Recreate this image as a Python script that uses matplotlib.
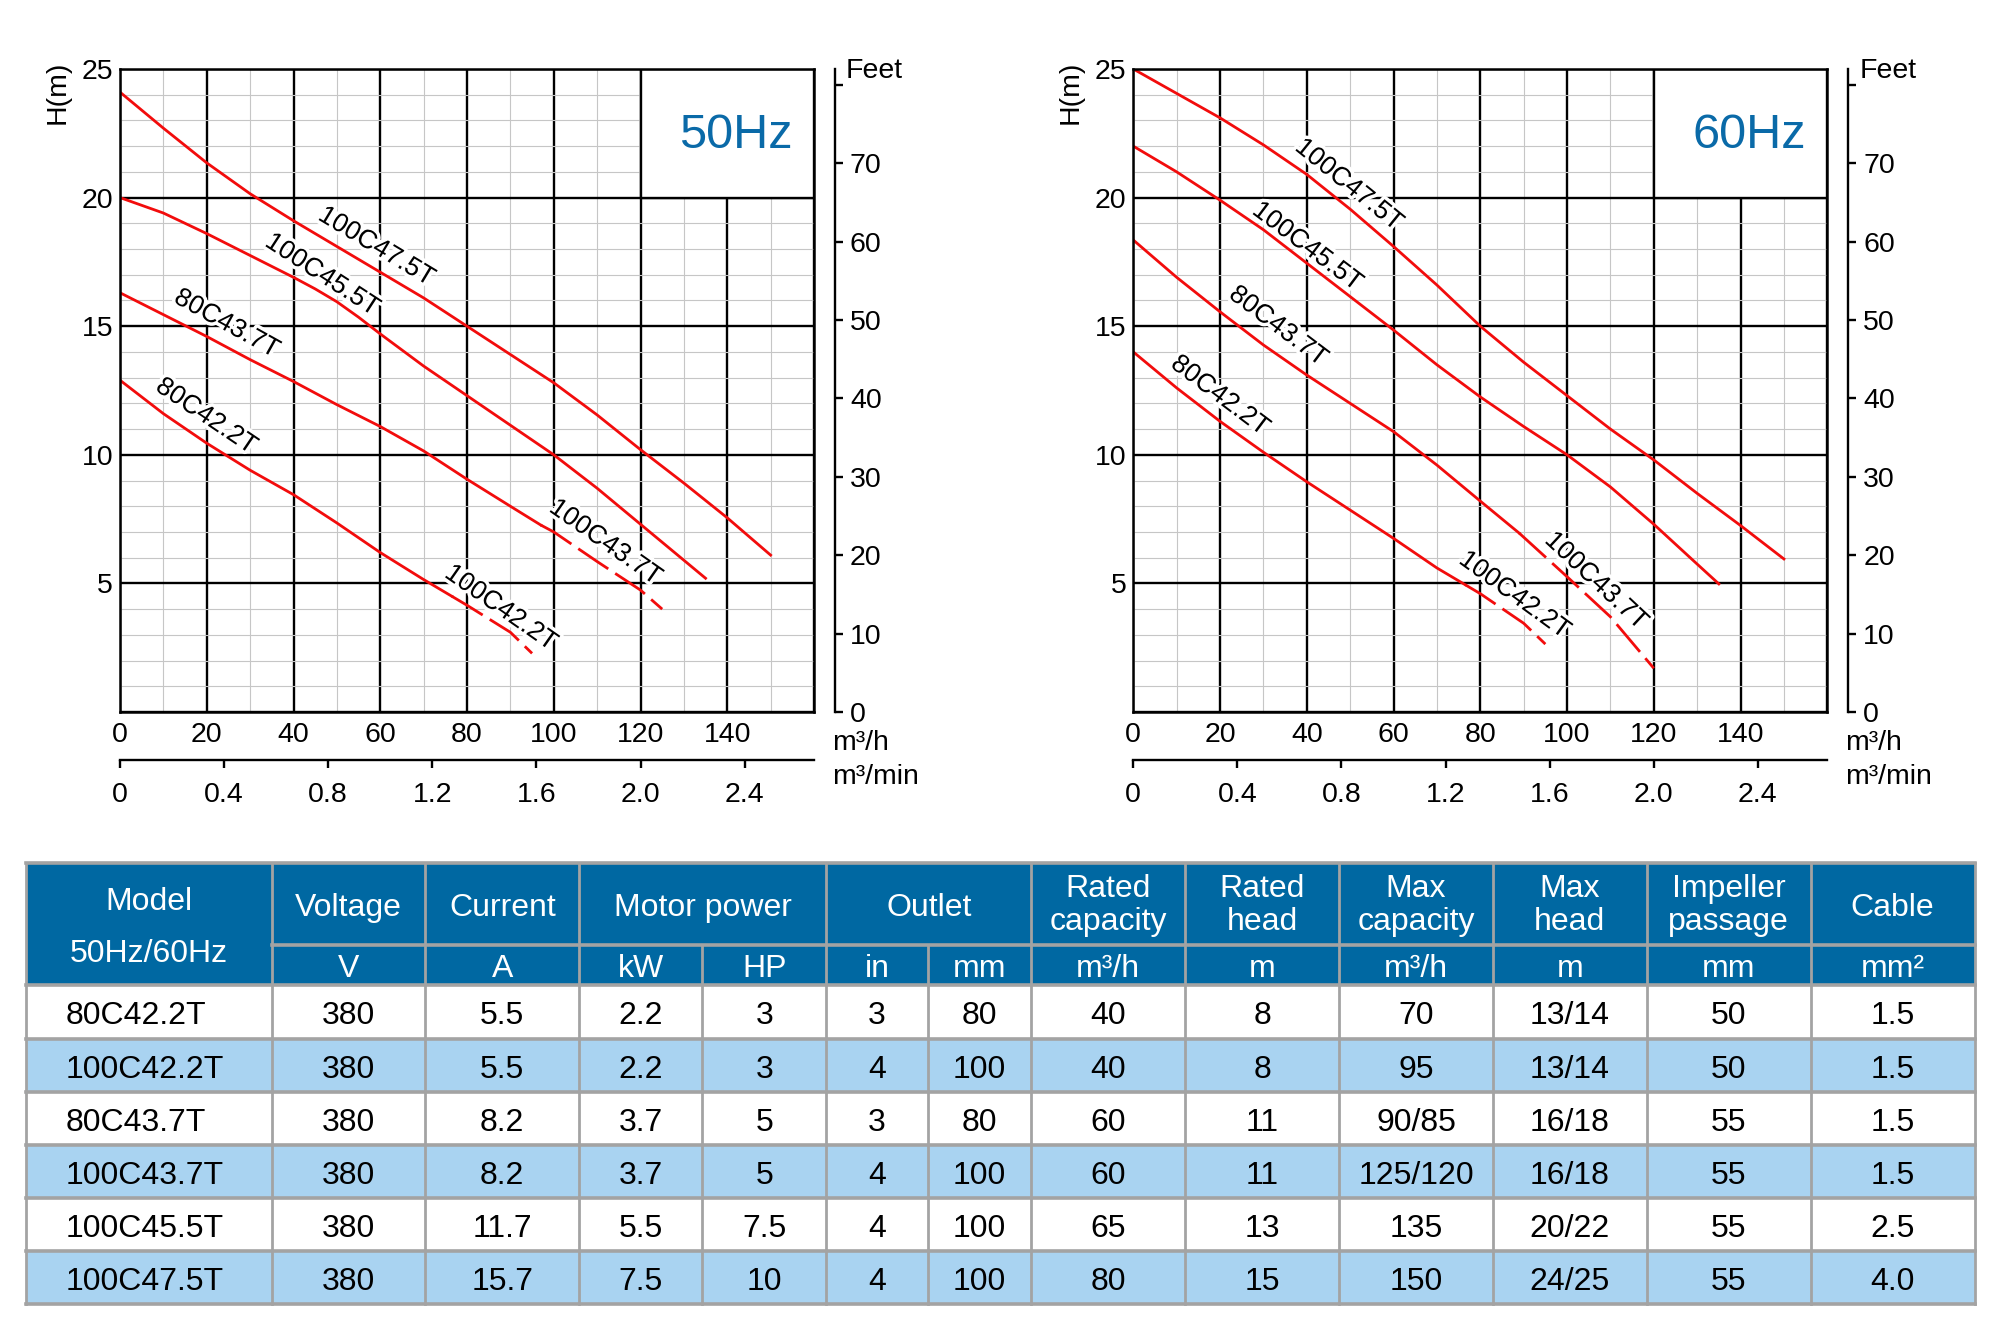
import matplotlib
matplotlib.use("Agg")
import matplotlib.pyplot as plt
import matplotlib.patheffects as pe
from matplotlib.patches import Rectangle

plt.rcParams['font.family'] = ['Liberation Sans', 'DejaVu Sans']

# ---------------- curve data (flow m3/h, head m) ----------------
# 50 Hz
q_50_47 = [0, 10, 20, 30, 40, 50, 60, 70, 80, 90, 100, 110, 120, 130, 140, 150]
h_50_47 = [24.1, 22.7, 21.35, 20.15, 19.1, 18.1, 17.1, 16.1, 15.0, 13.9, 12.8, 11.55, 10.2, 8.9, 7.55, 6.1]
q_50_45 = [0, 10, 20, 30, 40, 45, 50, 55, 60, 70, 80, 90, 100, 110, 120, 130, 135]
h_50_45 = [20.0, 19.4, 18.6, 17.75, 16.9, 16.45, 15.95, 15.35, 14.7, 13.45, 12.3, 11.15, 10.0, 8.7, 7.3, 5.9, 5.2]
q_50_43 = [0, 10, 20, 30, 40, 50, 60, 70, 80, 90, 97, 100, 110, 120, 125]
h_50_43 = [16.3, 15.45, 14.6, 13.7, 12.85, 11.95, 11.1, 10.15, 9.05, 8.0, 7.27, 7.0, 5.85, 4.74, 4.0]
q_50_42 = [0, 10, 20, 30, 40, 50, 60, 70, 76.5, 80, 90, 95]
h_50_42 = [12.9, 11.6, 10.45, 9.4, 8.45, 7.35, 6.2, 5.15, 4.5, 4.15, 3.1, 2.28]

# 60 Hz
q_60_47 = [0, 10, 20, 30, 40, 50, 60, 70, 80, 90, 100, 110, 120, 130, 140, 150]
h_60_47 = [25.0, 24.05, 23.1, 22.05, 20.9, 19.55, 18.1, 16.6, 15.0, 13.6, 12.3, 11.0, 9.8, 8.5, 7.25, 5.95]
q_60_45 = [0, 10, 20, 30, 40, 50, 60, 70, 80, 90, 100, 110, 120, 130, 135]
h_60_45 = [22.0, 21.0, 19.9, 18.75, 17.45, 16.15, 14.85, 13.5, 12.25, 11.1, 10.0, 8.75, 7.3, 5.75, 4.98]
q_60_43 = [0, 10, 20, 30, 40, 50, 60, 70, 80, 89, 100, 110, 120]
h_60_43 = [18.35, 16.9, 15.56, 14.27, 13.1, 12.0, 10.9, 9.6, 8.2, 6.95, 5.26, 3.7, 1.7]
q_60_42 = [0, 10, 20, 30, 40, 50, 60, 70, 76.5, 80, 90, 95]
h_60_42 = [14.0, 12.6, 11.3, 10.1, 8.95, 7.85, 6.75, 5.6, 4.95, 4.6, 3.45, 2.64]

# flow where the solid (80C) curve turns into the dashed (100C) extension
split_50_43, split_50_42 = 97, 76.5
split_60_43, split_60_42 = 89, 76.5

# curve labels: text, flow, head, angle
labels_50 = [("100C47.5T", 59.1, 18.1, -31), ("100C45.5T", 46.6, 17.0, -33),
             ("80C43.7T", 24.6, 15.1, -29), ("80C42.2T", 19.9, 11.5, -34),
             ("100C43.7T", 111.9, 6.6, -35), ("100C42.2T", 87.8, 4.05, -35)]
labels_60 = [("100C47.5T", 49.7, 20.5, -39), ("100C45.5T", 40.1, 18.1, -37),
             ("80C43.7T", 33.4, 15.0, -37), ("80C42.2T", 20.0, 12.3, -37),
             ("100C43.7T", 106.7, 5.1, -43), ("100C42.2T", 87.9, 4.55, -36)]

# ---------------- table data ----------------
models = ["80C42.2T", "100C42.2T", "80C43.7T", "100C43.7T", "100C45.5T", "100C47.5T"]
voltage = ["380", "380", "380", "380", "380", "380"]
current = ["5.5", "5.5", "8.2", "8.2", "11.7", "15.7"]
power_kw = ["2.2", "2.2", "3.7", "3.7", "5.5", "7.5"]
power_hp = ["3", "3", "5", "5", "7.5", "10"]
outlet_in = ["3", "4", "3", "4", "4", "4"]
outlet_mm = ["80", "100", "80", "100", "100", "100"]
rated_cap = ["40", "40", "60", "60", "65", "80"]
rated_head = ["8", "8", "11", "11", "13", "15"]
max_cap = ["70", "95", "90/85", "125/120", "135", "150"]
max_head = ["13/14", "13/14", "16/18", "16/18", "20/22", "24/25"]
impeller = ["50", "50", "55", "55", "55", "55"]
cable = ["1.5", "1.5", "1.5", "1.5", "2.5", "4.0"]

header_top = ["Voltage", "Current", "Motor power", "Outlet", "Rated\ncapacity", "Rated\nhead",
              "Max\ncapacity", "Max\nhead", "Impeller\npassage", "Cable"]
header_span = [1, 1, 2, 2, 1, 1, 1, 1, 1, 1]
units = ["V", "A", "kW", "HP", "in", "mm", "m³/h", "m", "m³/h", "m", "mm", "mm²"]

RED = "#f20c0c"
BLUE = "#0068a2"
LIGHT = "#a9d3f1"
GRAY = "#a3a3a3"
W, H = 1999, 1328
PX = 72 / 100.0  # points per pixel

fig = plt.figure(figsize=(W / 100, H / 100), dpi=100)
fig.patch.set_facecolor("white")

# ---------------- table ----------------
tab = fig.add_axes([0, 0, 1, 1])
tab.set_xlim(0, W)
tab.set_ylim(H, 0)
tab.axis("off")

col_edges = [25.6, 271.7, 425.4, 579.2, 702.2, 826.5, 927.7, 1031.5, 1185.3, 1339, 1492.9, 1646.6, 1810.6, 1974.6]
row_edges = [985, 1039, 1092.3, 1145, 1198.3, 1251, 1304.3]
hdr_top, hdr_mid = 863.3, 945
left, right = col_edges[0], col_edges[-1]

tab.add_patch(Rectangle((left, hdr_top), right - left, row_edges[0] - hdr_top, fc=BLUE, ec="none"))
for i in range(6):
    fc = "white" if i % 2 == 0 else LIGHT
    tab.add_patch(Rectangle((left, row_edges[i]), right - left, row_edges[i + 1] - row_edges[i], fc=fc, ec="none"))

lw = 2.0
tab.plot([left, right], [hdr_top, hdr_top], color=GRAY, lw=lw + 0.6)
tab.plot([col_edges[1], right], [hdr_mid, hdr_mid], color=GRAY, lw=lw + 0.6)
for y in row_edges:
    tab.plot([left, right], [y, y], color=GRAY, lw=lw + 0.6)
for i, x in enumerate(col_edges):
    y0 = hdr_mid if i in (4, 6) else hdr_top
    tab.plot([x, x], [y0, row_edges[-1]], color=GRAY, lw=lw)

fs_tab = 23
cx_model = (col_edges[0] + col_edges[1]) / 2
tab.text(cx_model, 910, "Model", color="white", fontsize=fs_tab, ha="center", va="baseline")
tab.text(cx_model, 962, "50Hz/60Hz", color="white", fontsize=fs_tab, ha="center", va="baseline")

c = 1
for lab, span in zip(header_top, header_span):
    cx = (col_edges[c] + col_edges[c + span]) / 2
    lines = lab.split("\n")
    if len(lines) == 1:
        tab.text(cx, 916, lines[0], color="white", fontsize=fs_tab, ha="center", va="baseline")
    else:
        tab.text(cx, 897, lines[0], color="white", fontsize=fs_tab, ha="center", va="baseline")
        tab.text(cx, 930, lines[1], color="white", fontsize=fs_tab, ha="center", va="baseline")
    c += span

for j, u in enumerate(units):
    cx = (col_edges[j + 1] + col_edges[j + 2]) / 2
    tab.text(cx, 977, u, color="white", fontsize=fs_tab, ha="center", va="baseline")

columns = [voltage, current, power_kw, power_hp, outlet_in, outlet_mm, rated_cap, rated_head,
           max_cap, max_head, impeller, cable]
for i in range(6):
    yb = (row_edges[i] + row_edges[i + 1]) / 2 + 12.5
    tab.text(66, yb, models[i], fontsize=fs_tab, ha="left", va="baseline")
    for j, col in enumerate(columns):
        cx = (col_edges[j + 1] + col_edges[j + 2]) / 2
        tab.text(cx, yb, col[i], fontsize=fs_tab, ha="center", va="baseline")


# ---------------- charts ----------------
def draw_chart(left_px, curves, labels, title):
    ax = fig.add_axes([left_px / W, (H - 712) / H, 694 / W, 643 / H])
    ax.set_xlim(0, 160)
    ax.set_ylim(0, 25)
    ax.set_xticks(range(0, 161, 20))
    ax.set_xticklabels([str(v) for v in range(0, 141, 20)] + [""])
    ax.set_xticks(range(0, 161, 10), minor=True)
    ax.set_yticks(range(0, 26, 5))
    ax.set_yticklabels([""] + [str(v) for v in range(5, 26, 5)])
    ax.set_yticks(range(0, 26, 1), minor=True)
    ax.set_axisbelow(True)
    ax.grid(which="minor", color="#c6c6c6", lw=0.8)
    ax.grid(which="major", color="black", lw=1.7)
    ax.tick_params(which="both", length=0)
    ax.tick_params(axis="x", pad=7, labelsize=20.5)
    ax.tick_params(axis="y", pad=5, labelsize=20.5)
    for s in ax.spines.values():
        s.set_linewidth(1.8)

    ax.add_patch(Rectangle((120, 20), 40, 5, fc="white", ec="black", lw=1.7, zorder=1))
    ax.text(142, 22.4, title, color="#0a6aa8", fontsize=35, ha="center", va="center", zorder=3)

    for q, h, split in curves:
        if split is None:
            ax.plot(q, h, color=RED, lw=2.0, zorder=2, solid_joinstyle="round")
        else:
            qs = [v for v in q if v <= split]
            hs = h[:len(qs)]
            qd = q[len(qs) - 1:]
            hd = h[len(qs) - 1:]
            ax.plot(qs, hs, color=RED, lw=2.0, zorder=2, solid_joinstyle="round")
            ax.plot(qd, hd, color=RED, lw=2.0, ls=(0, (13, 3)), zorder=2)

    for txt, x, y, rot in labels:
        ax.text(x, y, txt, fontsize=19, rotation=rot, rotation_mode="anchor",
                ha="center", va="center", zorder=4,
                path_effects=[pe.withStroke(linewidth=5, foreground="white")])

    # feet axis
    ft = ax.twinx()
    ft.set_ylim(0, 25 * 3.28084)
    ft.set_yticks(range(0, 81, 10))
    ft.set_yticklabels([str(v) for v in range(0, 71, 10)] + [""])
    for s in ["top", "left", "bottom"]:
        ft.spines[s].set_visible(False)
    ft.spines["right"].set_position(("outward", 21 * PX))
    ft.spines["right"].set_linewidth(1.7)
    ft.tick_params(axis="y", direction="out", length=8 * PX, width=1.7, pad=5, labelsize=20.5)
    ax.annotate("Feet", xy=(1, 1), xycoords="axes fraction", xytext=(32 * PX, -2 * PX),
                textcoords="offset points", ha="left", va="center", fontsize=20.5)

    # m3/min axis
    sec = ax.secondary_xaxis(-48 / 643, functions=(lambda q: q / 60.0, lambda m: m * 60.0))
    sec.set_xticks([0, 0.4, 0.8, 1.2, 1.6, 2.0, 2.4])
    sec.set_xticklabels(["0", "0.4", "0.8", "1.2", "1.6", "2.0", "2.4"])
    sec.spines["bottom"].set_linewidth(1.7)
    sec.tick_params(direction="out", length=8 * PX, width=1.7, pad=10, labelsize=20.5)

    ax.annotate("m³/h", xy=(1, 0), xycoords="axes fraction", xytext=(18 * PX, -31 * PX),
                textcoords="offset points", ha="left", va="center", fontsize=20.5)
    ax.annotate("m³/min", xy=(1, 0), xycoords="axes fraction", xytext=(18 * PX, -65 * PX),
                textcoords="offset points", ha="left", va="center", fontsize=20.5)
    ax.annotate("H(m)", xy=(0, 1), xycoords="axes fraction", xytext=(-62.5 * PX, -23 * PX),
                textcoords="offset points", ha="center", va="center", rotation=90, fontsize=20.5)
    return ax


draw_chart(120, [(q_50_47, h_50_47, None), (q_50_45, h_50_45, None),
                 (q_50_43, h_50_43, split_50_43), (q_50_42, h_50_42, split_50_42)],
           labels_50, "50Hz")
draw_chart(1133.3, [(q_60_47, h_60_47, None), (q_60_45, h_60_45, None),
                    (q_60_43, h_60_43, split_60_43), (q_60_42, h_60_42, split_60_42)],
           labels_60, "60Hz")

fig.savefig("out.png", dpi=100)
